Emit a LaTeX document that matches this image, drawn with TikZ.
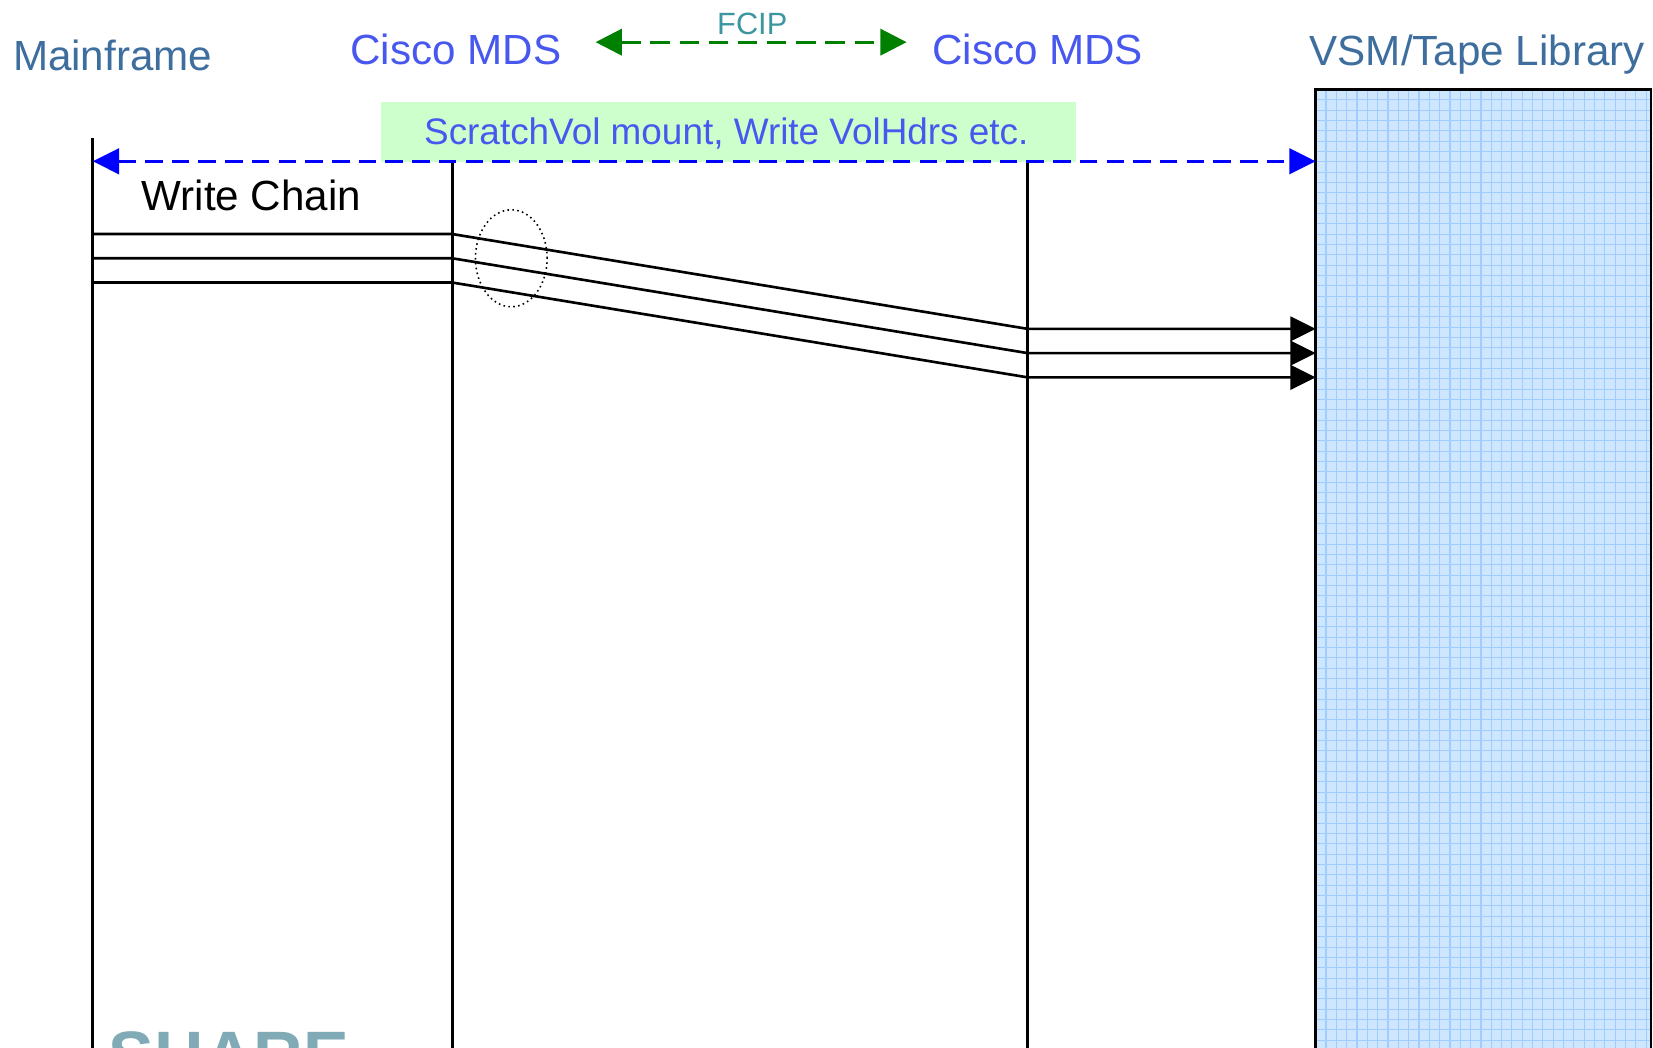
\documentclass[tikz,border=0pt]{standalone}
\usepackage{fontspec}
\setmainfont{Liberation Sans}
\usetikzlibrary{arrows.meta,shapes.geometric}
\definecolor{mfblue}{RGB}{62,110,158}
\definecolor{ciscoblue}{RGB}{72,88,238}
\definecolor{fciptext}{RGB}{60,150,160}
\definecolor{fcipgreen}{RGB}{0,128,0}
\definecolor{notegreen}{RGB}{204,255,204}
\definecolor{pureblue}{RGB}{0,0,255}
\definecolor{tapefill}{RGB}{207,230,255}
\definecolor{tapegrid}{RGB}{160,204,255}
\definecolor{sharecol}{RGB}{128,170,181}
\tikzset{
  big/.style={inner sep=0pt, font=\fontsize{24}{28}\selectfont},
  hdrdark/.style={big, text=mfblue},
  hdrcisco/.style={big, text=ciscoblue},
  lifeline/.style={line width=1.7pt, black},
  chain/.style={line width=1.5pt, black, -{Triangle[length=14.4pt,width=14pt]}},
}
\begin{document}
\begin{tikzpicture}[x=0.021084cm, y=-0.021084cm]
\useasboundingbox (0,0) rectangle (1568,994);
\clip (0,0) rectangle (1568,994);
\fill[white] (0,0) rectangle (1568,994);

% tape library box
\fill[tapefill] (1248,85) rectangle (1566,1000);
\begin{scope}
\clip (1248,85) rectangle (1566,1000);
\foreach \i in {0,...,33} {\draw[tapegrid, line width=0.6pt] (1248+\i*9.8,85) -- (1248+\i*9.8,1000);}
\foreach \j in {0,...,95} {\draw[tapegrid, line width=0.6pt] (1248,85+\j*9.8) -- (1566,85+\j*9.8);}
\end{scope}
\draw[line width=1.4pt] (1248,1000) -- (1248,85) -- (1566,85) -- (1566,1000);

% headers
\node[hdrdark, anchor=base west] (mainframe) at (12,67) {Mainframe};
\node[hdrcisco, anchor=base west] (mdsA) at (332,61) {Cisco MDS};
\node[hdrcisco, anchor=base west] (mdsB) at (884,61) {Cisco MDS};
\node[hdrdark, anchor=base west] (vsmlabel) at (1242,62) {VSM/Tape Library};

% FCIP
\coordinate (fcipL) at (565,40);
\coordinate (fcipR) at (860,40);
\draw[fcipgreen, line width=1.7pt, dash pattern=on 11pt off 5.6pt,
  {Triangle[length=15pt,width=15pt]}-{Triangle[length=15pt,width=15pt]}] (fcipL) -- (fcipR);
\node[inner sep=0pt, anchor=base west, text=fciptext, font=\fontsize{17.5}{20}\selectfont] (fcip) at (680,33) {FCIP};

% green note
\node[fill=notegreen, minimum width=659*0.021084cm, minimum height=57*0.021084cm, anchor=north west, inner sep=0pt] (notebox) at (361,96) {};
\node[inner sep=0pt, anchor=base west, text=ciscoblue, font=\fontsize{21}{24}\selectfont] (notetext) at (402,137) {ScratchVol mount, Write VolHdrs etc.};

% lifelines
\coordinate (mfTop) at (88,131);
\coordinate (mfBot) at (88,1000);
\coordinate (aTop) at (429,153);
\coordinate (aBot) at (429,1000);
\coordinate (bTop) at (975,153);
\coordinate (bBot) at (975,1000);
\draw[lifeline] (mfTop) -- (mfBot);
\draw[lifeline] (aTop) -- (aBot);
\draw[lifeline] (bTop) -- (bBot);

% blue dashed double arrow
\coordinate (blueL) at (88,153);
\coordinate (blueR) at (1248,153);
\draw[pureblue, line width=1.8pt, dash pattern=on 10pt off 5.2pt,
  {Triangle[length=15pt,width=14.5pt]}-{Triangle[length=15pt,width=14.5pt]}] (blueL) -- (blueR);

% write chain
\node[big, anchor=base west] (wc) at (134,200) {Write Chain};
\foreach \k/\ya/\yb in {1/222/312, 2/245/335, 3/268/358} {
  \coordinate (s\k) at (88,\ya);
  \coordinate (p\k) at (429,\ya);
  \coordinate (q\k) at (975,\yb);
  \coordinate (e\k) at (1248,\yb);
  \draw[chain] (s\k) -- (p\k) -- (q\k) -- (e\k);
}

% dotted ellipse
\node[draw, ellipse, minimum width=68*0.021084cm, minimum height=92*0.021084cm, inner sep=0pt,
  line width=0.9pt, dash pattern=on 0.9pt off 1.9pt] (loop) at (485,245) {};

% logo fragment
\node[inner sep=0pt, anchor=base west, text=sharecol, font=\bfseries\fontsize{39}{44}\selectfont] (share) at (103,1024) {SHARE};
\end{tikzpicture}
\end{document}
